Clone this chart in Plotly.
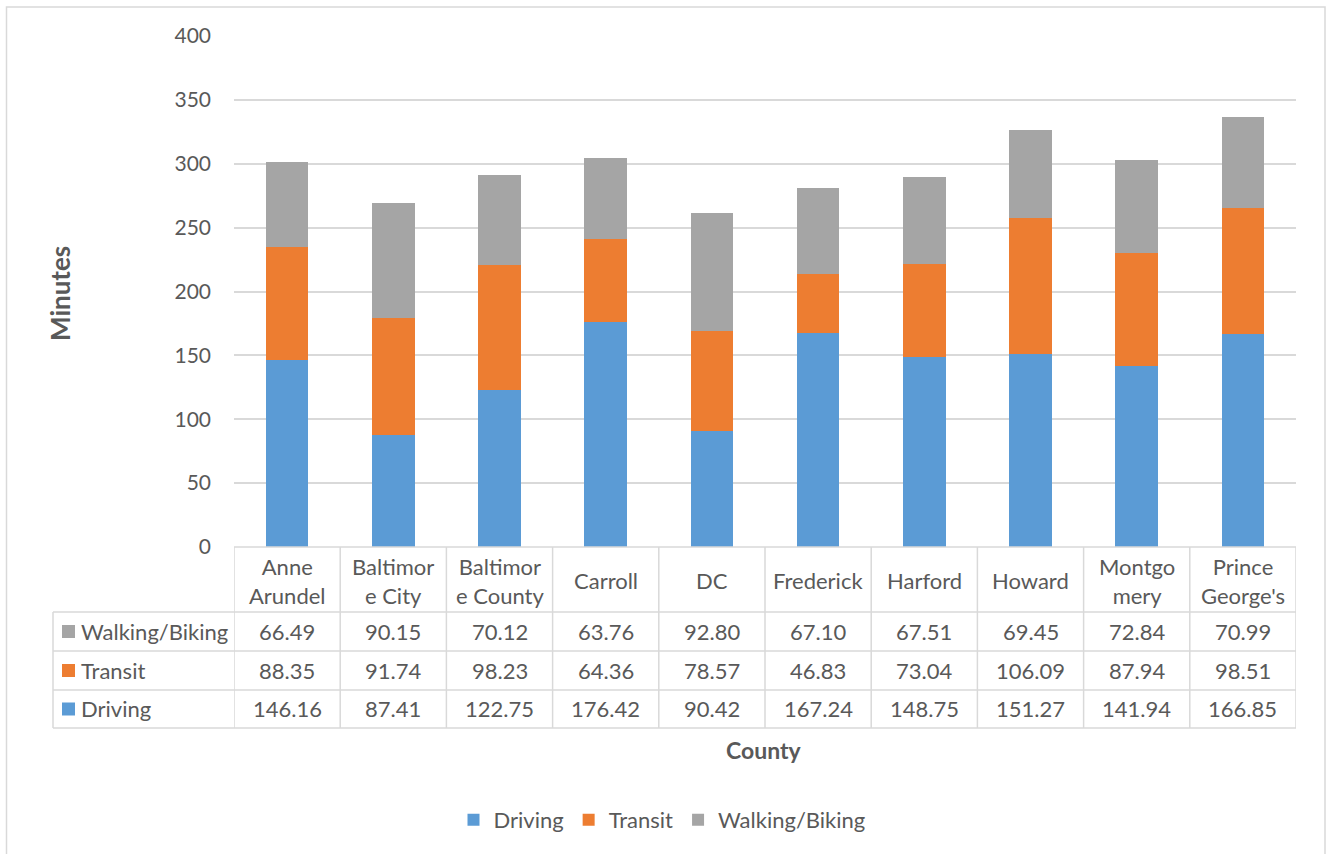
import plotly.graph_objects as go

# Average travel time by mode, per county
counties = ["Anne Arundel", "Baltimore City", "Baltimore County", "Carroll", "DC",
            "Frederick", "Harford", "Howard", "Montgomery", "Prince George's"]
header_labels = ["Anne<br>Arundel", "Baltimor<br>e City", "Baltimor<br>e County", "Carroll", "DC",
                 "Frederick", "Harford", "Howard", "Montgo<br>mery", "Prince<br>George's"]
driving = [146.16, 87.41, 122.75, 176.42, 90.42, 167.24, 148.75, 151.27, 141.94, 166.85]
transit = [88.35, 91.74, 98.23, 64.36, 78.57, 46.83, 73.04, 106.09, 87.94, 98.51]
walking = [66.49, 90.15, 70.12, 63.76, 92.80, 67.10, 67.51, 69.45, 72.84, 70.99]

series = [("Driving", driving, "#5B9BD5"),
          ("Transit", transit, "#ED7D31"),
          ("Walking/Biking", walking, "#A5A5A5")]

W, H = 1331, 854
PL, PR, PT, PB = 234, 1296, 36, 547          # plot area in pixels
TEXT = "#595959"
GRID = "#D9D9D9"
FONT = "Lato"
FS = 21          # axis tick labels
FT = 22          # data table text


def px(x):
    return (x - PL) / (PR - PL)


def py(y):
    return (PB - y) / (PB - PT)


fig = go.Figure()
for name, vals, color in series:
    fig.add_trace(go.Bar(x=counties, y=vals, name=name, marker_color=color,
                         marker_line_width=0))

shapes = []
annotations = []

# chart frame
shapes.append(dict(type="rect", xref="paper", yref="paper",
                   x0=px(6.5), x1=px(1325), y0=py(7), y1=py(870),
                   line=dict(color="#D9D9D9", width=1.5), fillcolor="rgba(0,0,0,0)",
                   layer="below"))

# data table under the axis
header_top, header_bot = 547, 612
row_edges = [612, 651, 690, 728]
table_left = 53
for i in range(len(counties) + 1):
    shapes.append(dict(type="line", xref="x", yref="paper", x0=i - 0.5, x1=i - 0.5,
                       y0=py(header_top), y1=py(row_edges[-1]),
                       line=dict(color=GRID, width=1.5)))
shapes.append(dict(type="line", xref="paper", yref="paper", x0=px(table_left), x1=px(table_left),
                   y0=py(row_edges[0]), y1=py(row_edges[-1]), line=dict(color=GRID, width=1.5)))
shapes.append(dict(type="line", xref="paper", yref="paper", x0=0, x1=1,
                   y0=py(header_top), y1=py(header_top), line=dict(color=GRID, width=1.5)))
for e in row_edges:
    shapes.append(dict(type="line", xref="paper", yref="paper", x0=px(table_left), x1=1,
                       y0=py(e), y1=py(e), line=dict(color=GRID, width=1.5)))

# header row: county names
for c, lab in zip(counties, header_labels):
    annotations.append(dict(x=c, xref="x", y=py((header_top + header_bot) / 2 + 1), yref="paper",
                            text=lab, showarrow=False, xanchor="center", yanchor="middle",
                            font=dict(family=FONT, size=FT, color=TEXT)))

# body rows: top row is the top stack segment
table_rows = list(reversed(series))
for r, (name, vals, color) in enumerate(table_rows):
    yc = (row_edges[r] + row_edges[r + 1]) / 2
    shapes.append(dict(type="rect", xref="paper", yref="paper",
                       x0=px(62), x1=px(75), y0=py(yc - 6.5), y1=py(yc + 6.5),
                       fillcolor=color, line=dict(width=0)))
    annotations.append(dict(x=px(79), xref="paper", y=py(yc), yref="paper", text=name,
                            showarrow=False, xanchor="left", yanchor="middle",
                            font=dict(family=FONT, size=FT, color=TEXT)))
    for c, v in zip(counties, vals):
        annotations.append(dict(x=c, xref="x", y=py(yc), yref="paper", text=f"{v:.2f}",
                                showarrow=False, xanchor="center", yanchor="middle",
                                font=dict(family=FONT, size=FT, color=TEXT)))

# axis titles
annotations.append(dict(x=px(764), xref="paper", y=py(750), yref="paper", text="<b>County</b>",
                        showarrow=False, xanchor="center", yanchor="middle",
                        font=dict(family=FONT, size=23, color=TEXT)))
annotations.append(dict(x=px(60), xref="paper", y=py(294), yref="paper", text="<b>Minutes</b>",
                        showarrow=False, xanchor="center", yanchor="middle", textangle=-90,
                        font=dict(family=FONT, size=26, color=TEXT)))

fig.update_layout(
    width=W, height=H,
    margin=dict(l=PL, r=W - PR, t=PT, b=H - PB, autoexpand=False),
    paper_bgcolor="white", plot_bgcolor="white",
    barmode="stack", bargap=0.6,
    font=dict(family=FONT, size=FS, color=TEXT),
    xaxis=dict(range=[-0.5, len(counties) - 0.5], showticklabels=False, showgrid=False,
               zeroline=False, showline=False, ticks=""),
    yaxis=dict(range=[0, 400], dtick=50, showgrid=True, gridcolor=GRID, gridwidth=1.5,
               zeroline=False, showline=False, ticks="", ticklabelstandoff=22,
               tickfont=dict(family=FONT, size=FS, color=TEXT)),
    legend=dict(orientation="h", x=px(662), xanchor="center", y=py(820), yanchor="middle",
                traceorder="normal", font=dict(family=FONT, size=FT, color=TEXT),
                itemwidth=30, bgcolor="rgba(0,0,0,0)"),
    shapes=shapes, annotations=annotations,
    showlegend=True,
)

fig.write_html("out.html")
